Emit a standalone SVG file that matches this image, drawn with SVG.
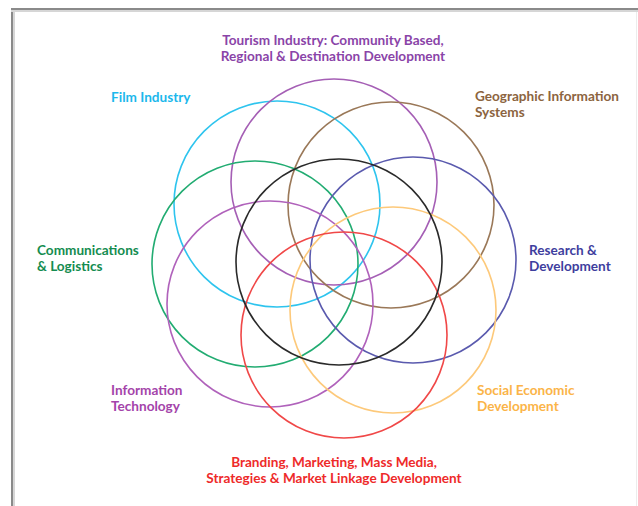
<svg xmlns="http://www.w3.org/2000/svg" width="638" height="506" viewBox="0 0 638 506">
<style>
.c{fill:none;stroke-width:1.6}
.t{font-family:Lato,"Open Sans","Liberation Sans",sans-serif;font-weight:bold;font-size:13.6px}
.m{text-anchor:middle}
</style>
<rect x="0" y="0" width="638" height="506" fill="#ffffff"/>
<g id="frame">
<line x1="11" y1="9" x2="638" y2="9" stroke="#8a8a8a" stroke-width="2"/>
<line x1="12" y1="8" x2="12" y2="506" stroke="#8a8a8a" stroke-width="2"/>
<line x1="11" y1="11" x2="638" y2="11" stroke="#d6d6d6" stroke-width="2"/>
<line x1="14" y1="10" x2="14" y2="506" stroke="#d6d6d6" stroke-width="2"/>
<line x1="636.5" y1="12" x2="636.5" y2="506" stroke="#ececec" stroke-width="1"/>
</g>
<g id="circles">
<g id="n-film"><circle class="c" cx="277" cy="204" r="103" stroke="#2ec4ee"/></g>
<g id="n-tourism"><circle class="c" cx="334" cy="182" r="103" stroke="#a55fb5"/></g>
<g id="n-gis"><circle class="c" cx="391" cy="205" r="103" stroke="#9a7858"/></g>
<g id="n-comm"><circle class="c" cx="255" cy="264" r="103" stroke="#22ac72"/></g>
<g id="n-rd"><circle class="c" cx="413" cy="260" r="103" stroke="#5a5aae"/></g>
<g id="n-it"><circle class="c" cx="270" cy="304" r="103" stroke="#b062bb"/></g>
<g id="n-social"><circle class="c" cx="393" cy="310" r="103" stroke="#fdc97a"/></g>
<g id="n-branding"><circle class="c" cx="344" cy="335" r="103" stroke="#f04848"/></g>
<g id="n-center"><circle class="c" cx="339" cy="262" r="103" stroke="#2a2a2a" stroke-width="1.8"/></g>
</g>
<g id="labels">
<g id="l-tourism" fill="#8a44a8"><text class="t m" x="333" y="45">Tourism Industry: Community Based,</text><text class="t m" x="333" y="61">Regional &amp; Destination Development</text></g>
<g id="l-film" fill="#1cb8ec"><text class="t" x="111" y="102">Film Industry</text></g>
<g id="l-gis" fill="#8c6440"><text class="t" x="475" y="101">Geographic Information</text><text class="t" x="475" y="117">Systems</text></g>
<g id="l-comm" fill="#148c50"><text class="t" x="37" y="255">Communications</text><text class="t" x="37" y="271">&amp; Logistics</text></g>
<g id="l-rd" fill="#3e3e9e"><text class="t" x="529" y="255">Research &amp;</text><text class="t" x="529" y="271">Development</text></g>
<g id="l-it" fill="#a444aa"><text class="t" x="111" y="395">Information</text><text class="t" x="111" y="411">Technology</text></g>
<g id="l-social" fill="#fbb448"><text class="t" x="477" y="395">Social Economic</text><text class="t" x="477" y="411">Development</text></g>
<g id="l-branding" fill="#ee2a2a"><text class="t m" x="334" y="467">Branding, Marketing, Mass Media,</text><text class="t m" x="334" y="483">Strategies &amp; Market Linkage Development</text></g>
</g>
</svg>
